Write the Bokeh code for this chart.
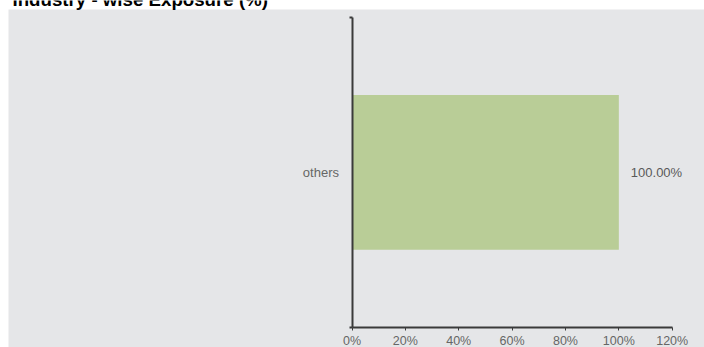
from bokeh.plotting import figure
from bokeh.models import (ColumnDataSource, Range1d, LinearAxis, FixedTicker,
                          PrintfTickFormatter, Label, BoxAnnotation)
from bokeh.core.properties import value
from bokeh.embed import file_html
from bokeh.resources import INLINE

# Data
categories = ["others"]
exposure_pct = [100.0]
x_ticks = [0, 20, 40, 60, 80, 100, 120]

FONT = "Liberation Sans"
BG = "#e5e6e8"
AXIS = "#3a3a3a"
TEXT = "#666666"

W, H = 704, 347
n = len(categories)
rows = [i + 0.5 for i in range(n)]
source = ColumnDataSource(dict(
    cat=categories,
    row=rows,
    pct=exposure_pct,
    label=[f"{v:.2f}%" for v in exposure_pct],
))

# Layout in canvas pixels: value 0 sits at x0_px, 120 at x120_px;
# the category band runs from band_top_px down to band_bot_px.
x0_px, x120_px = 351.5, 671.7
band_top_px, band_bot_px = 17.0, 326.5
panel_left_px, panel_top_px = 8, 9

px_per_unit = (x120_px - x0_px) / 120.0
px_per_row = (band_bot_px - band_top_px) / n


def x_at(px):
    return (px - x0_px) / px_per_unit


def y_at(px):
    return (band_bot_px - px) / px_per_row


p = figure(width=W, height=H, output_backend="svg", toolbar_location=None,
           x_range=Range1d(x_at(0), x_at(W)),
           y_range=Range1d(y_at(H), y_at(0)),
           x_axis_type=None, y_axis_type=None,
           min_border=0)
p.background_fill_color = "white"
p.border_fill_color = BG
p.outline_line_color = None
p.xgrid.visible = False
p.ygrid.visible = False

# Grey plotting panel (white margin above and to the left of it)
p.add_layout(BoxAnnotation(left=x_at(panel_left_px), top=y_at(panel_top_px),
                           right=x_at(W + 20), bottom=y_at(H + 20),
                           fill_color=BG, fill_alpha=1.0, line_color=None,
                           level="underlay"))

# Bars
p.hbar(y="row", right="pct", left=0, height=0.5, source=source,
       fill_color="#b9cd97", line_color=None)

# Value labels at the end of each bar
p.text(x="pct", y="row", text="label", source=source, x_offset=12,
       text_baseline="middle", text_align="left",
       text_font=value(FONT), text_font_size="13px", text_color="#595959")

# Value axis, pinned at the bottom of the category band
xaxis = LinearAxis(fixed_location=0, bounds=(0, 120),
                   ticker=FixedTicker(ticks=x_ticks, minor_ticks=[]),
                   formatter=PrintfTickFormatter(format="%d%%"))
xaxis.axis_line_color = AXIS
xaxis.axis_line_width = 2
xaxis.major_tick_line_color = AXIS
xaxis.major_tick_line_width = 1
xaxis.major_tick_out = 3
xaxis.major_tick_in = 0
xaxis.minor_tick_line_color = None
xaxis.major_label_standoff = 4
xaxis.major_label_text_font = FONT
xaxis.major_label_text_font_size = "12.5px"
xaxis.major_label_text_color = TEXT
p.add_layout(xaxis, "below")

# Category axis, pinned at zero
yaxis = LinearAxis(fixed_location=0, bounds=(0, n),
                   ticker=FixedTicker(ticks=rows, minor_ticks=list(range(n + 1))),
                   major_label_overrides={r: c for r, c in zip(rows, categories)})
yaxis.axis_line_color = AXIS
yaxis.axis_line_width = 2
yaxis.major_tick_line_color = None
yaxis.major_tick_out = 0
yaxis.major_tick_in = 0
yaxis.minor_tick_line_color = AXIS
yaxis.minor_tick_line_width = 2
yaxis.minor_tick_out = 3
yaxis.minor_tick_in = 0
yaxis.major_label_standoff = 10
yaxis.major_label_text_font = FONT
yaxis.major_label_text_font_size = "13px"
yaxis.major_label_text_color = TEXT
p.add_layout(yaxis, "left")

# Chart title, hugging the top edge
title = Label(x=12, y=H + 1, x_units="screen", y_units="screen",
              text="Industry - wise Exposure (%)",
              text_font=FONT, text_font_size="18.7px", text_font_style="bold",
              text_color="#000000", text_baseline="alphabetic")
p.add_layout(title)

open("out.html", "w").write(file_html(p, INLINE))
